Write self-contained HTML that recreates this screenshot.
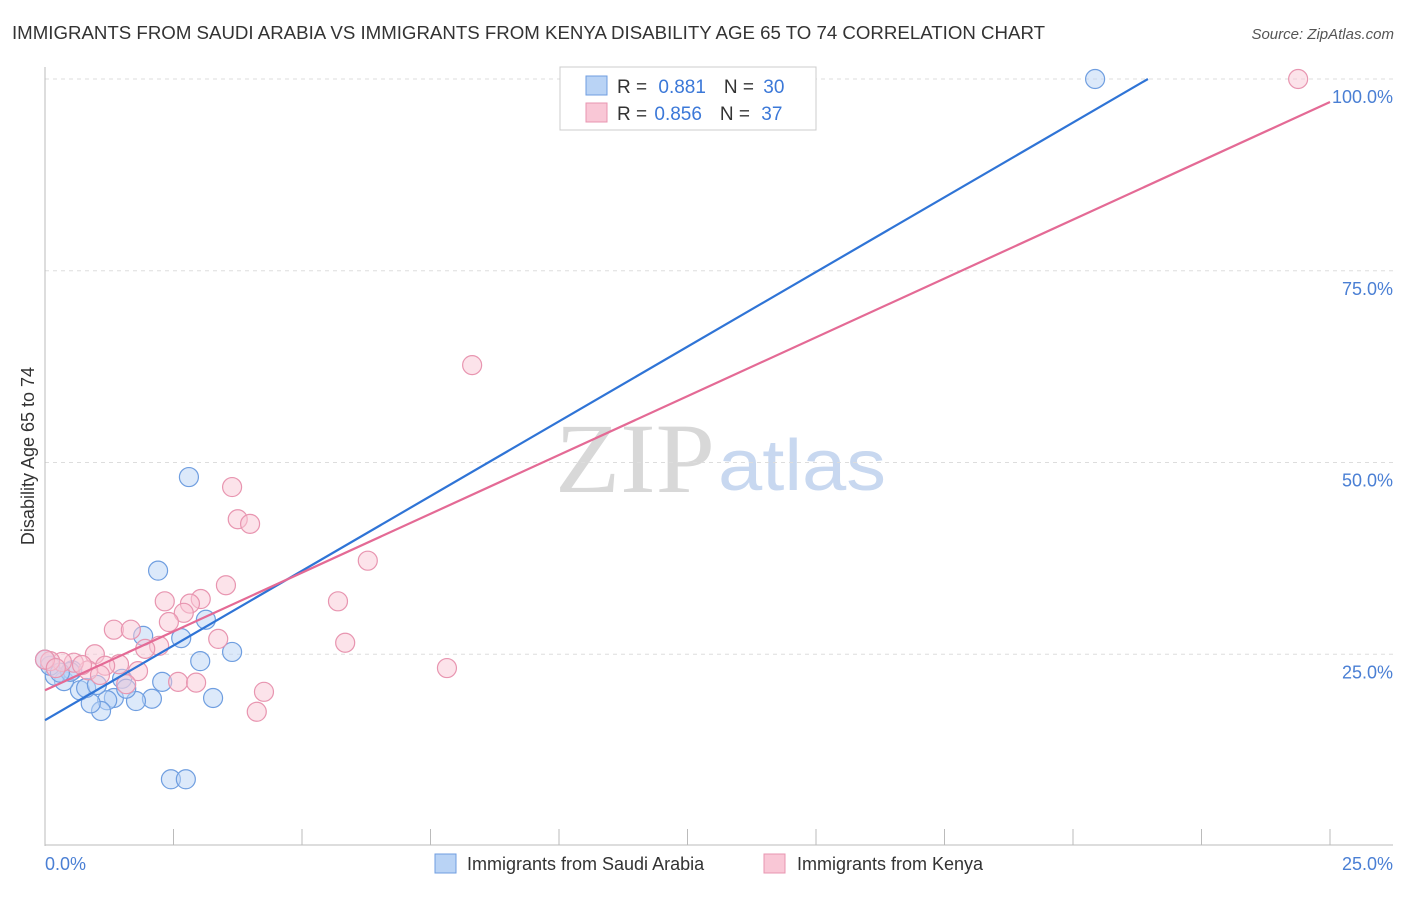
<!DOCTYPE html>
<html><head><meta charset="utf-8"><style>
body{margin:0;width:1406px;height:892px;background:#fff;font-family:"Liberation Sans",sans-serif;overflow:hidden}
</style></head><body>
<svg id="chart" width="1406" height="892" font-family="Liberation Sans, sans-serif">
<text x="12" y="39" font-size="18" fill="#333" textLength="1033" lengthAdjust="spacingAndGlyphs">IMMIGRANTS FROM SAUDI ARABIA VS IMMIGRANTS FROM KENYA DISABILITY AGE 65 TO 74 CORRELATION CHART</text>
<text x="1394" y="39" font-size="15" fill="#555" text-anchor="end" font-style="italic">Source: ZipAtlas.com</text>
<text x="715" y="492" font-size="100" fill="#d8d8d8" text-anchor="end" style="font-family:'Liberation Serif',serif" textLength="160" lengthAdjust="spacingAndGlyphs">ZIP</text>
<text x="718" y="490" font-size="72" fill="#c8d8f0" textLength="168" lengthAdjust="spacingAndGlyphs">atlas</text>
<text transform="translate(34,456) rotate(-90)" font-size="18" fill="#333" text-anchor="middle">Disability Age 65 to 74</text>
<g id="grid"></g><g id="marks"></g>
<g>
<rect x="560" y="67" width="256" height="63" fill="#fff" stroke="#ccc"/>
<rect x="586" y="76" width="21" height="19" fill="#b9d3f5" stroke="#6f9ee0"/>
<rect x="586" y="103" width="21" height="19" fill="#f9c7d6" stroke="#e895b0"/>
<text x="617" y="93" font-size="19" fill="#333">R = <tspan fill="#3b78d8" dx="6">0.881</tspan><tspan dx="18">N = </tspan><tspan fill="#3b78d8" dx="4">30</tspan></text>
<text x="617" y="120" font-size="19" fill="#333">R = <tspan fill="#3b78d8" dx="2">0.856</tspan><tspan dx="18">N = </tspan><tspan fill="#3b78d8" dx="6">37</tspan></text>
</g>
<rect x="435" y="854" width="21" height="19" fill="#b9d3f5" stroke="#6f9ee0"/>
<text x="467" y="870" font-size="18" fill="#333">Immigrants from Saudi Arabia</text>
<rect x="764" y="854" width="21" height="19" fill="#f9c7d6" stroke="#e895b0"/>
<text x="797" y="870" font-size="18" fill="#333">Immigrants from Kenya</text>
<text x="45" y="870" font-size="18" fill="#4a7fd4">0.0%</text>
<text x="1393" y="870" font-size="18" fill="#4a7fd4" text-anchor="end">25.0%</text>
</svg>
<script>
const yTicks=[25,50,75,100];
const yTickLabels=["25.0%","50.0%","75.0%","100.0%"];
const xTicks=[2.5,5,7.5,10,12.5,15,17.5,20,22.5,25];
const saudiX=[20.43,2.80,2.20,1.91,2.65,3.13,3.64,3.02,2.28,3.27,2.08,1.77,1.34,1.21,1.50,1.58,1.09,0.89,0.68,0.80,1.01,0.37,0.19,0.53,0.10,2.45,2.74,0.49,0,0.29];
const saudiY=[100,48.1,35.9,27.4,27.1,29.5,25.3,24.1,21.4,19.3,19.2,18.9,19.3,19.0,21.8,20.5,17.6,18.6,20.3,20.6,21.0,21.5,22.2,22.9,23.5,8.7,8.7,22.7,24.3,22.6];
const kenyaX=[24.38,8.31,3.64,3.75,3.99,6.28,3.52,5.70,2.33,3.03,2.82,2.70,2.41,1.34,1.67,3.37,5.84,2.22,1.95,0.97,7.82,1.81,1.44,1.17,2.59,2.94,4.26,4.12,0.84,0.56,0.33,0.10,0,1.07,1.58,0.72,0.21];
const kenyaY=[100,62.7,46.8,42.6,42.0,37.2,34.0,31.9,31.9,32.2,31.6,30.4,29.2,28.2,28.2,27.0,26.5,26.1,25.7,25.0,23.2,22.8,23.7,23.5,21.4,21.3,20.1,17.5,22.9,23.9,24.0,24.1,24.3,22.3,21.1,23.6,23.2];
const saudiTrend=[16.4,3.896];
const kenyaTrend=[20.3,3.068];
const X=v=>45+v/25*1285, Y=v=>846-v*7.67;
const NS="http://www.w3.org/2000/svg";
function mk(p,t,a){const e=document.createElementNS(NS,t);for(const k in a)e.setAttribute(k,a[k]);p.appendChild(e);return e;}
const g=document.getElementById('grid'),m=document.getElementById('marks');
yTicks.forEach((v,i)=>{
 const l=mk(g,'line',{x1:45,x2:1393,y1:Y(v),y2:Y(v),stroke:'#ddd','stroke-dasharray':'4,4'});
 
 
 const t=mk(g,'text',{x:1393,y:Y(v)+24,'font-size':18,fill:'#4a7fd4','text-anchor':'end'});
 t.textContent=yTickLabels[i];
 
 
});
const ax=mk(g,'line',{x1:45,x2:45,y1:67,y2:846,stroke:'#bbb'});


const bx=mk(g,'line',{x1:45,x2:1393,y1:845,y2:845,stroke:'#bbb'});


xTicks.forEach(v=>{
 const l=mk(g,'line',{x1:X(v),x2:X(v),y1:829,y2:845,stroke:'#bbb'});
 
 
});
function pts(xs,ys,fill,stroke,name){xs.forEach((x,i)=>{
 const c=mk(m,'circle',{cx:X(x),cy:Y(ys[i]),r:9.5,fill:fill,'fill-opacity':0.5,stroke:stroke,'stroke-width':1.2});
 
 
});}
pts(saudiX,saudiY,'#b9d3f5','#6f9ee0','point-saudi');
pts(kenyaX,kenyaY,'#f9c7d6','#e895b0','point-kenya');
const bl=mk(m,'line',{x1:X(0),y1:Y(saudiTrend[0]),x2:X((100-saudiTrend[0])/saudiTrend[1]),y2:Y(100),stroke:'#2f74d6','stroke-width':2.2});


const pl=mk(m,'line',{x1:X(0),y1:Y(kenyaTrend[0]),x2:X(25),y2:Y(kenyaTrend[0]+25*kenyaTrend[1]),stroke:'#e46a95','stroke-width':2.2});


</script>
</body></html>
